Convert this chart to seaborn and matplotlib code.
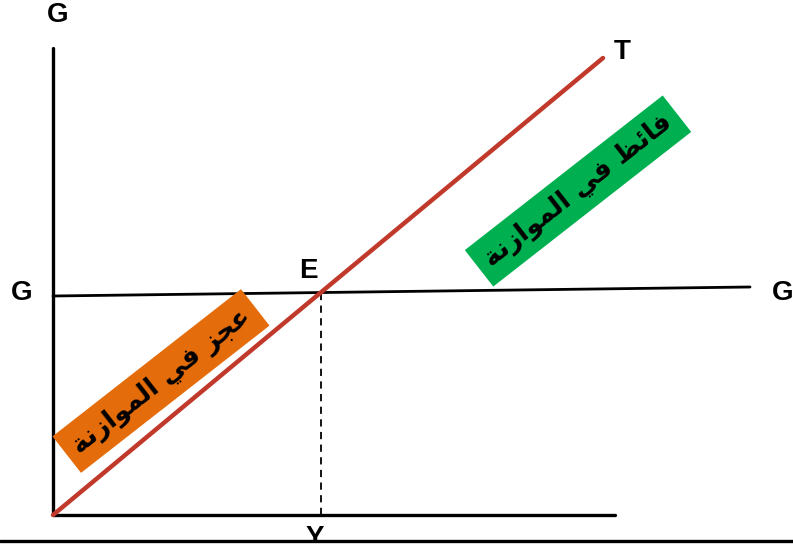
import numpy as np
import seaborn as sns
from matplotlib import pyplot as plt

# diagram values (origin at the axes corner, units ~ pixels)
t_x = [0, 550]
t_y = [0, 457]
g_x = [0, 697]
g_y = [219, 228]
y_axis_top = 467
x_axis_end = 562

deficit_label = "عجز في الموازنة"
surplus_label = "فائض في الموازنة"

# minimal arabic shaping: letter -> (isolated, final, initial, medial)
forms = {
    "ع": ("\uFEC9", "\uFECA", "\uFECB", "\uFECC"),
    "ج": ("\uFE9D", "\uFE9E", "\uFE9F", "\uFEA0"),
    "ز": ("\uFEAF", "\uFEB0", "\uFEAF", "\uFEB0"),
    "ف": ("\uFED1", "\uFED2", "\uFED3", "\uFED4"),
    "ي": ("\uFEF1", "\uFEF2", "\uFEF3", "\uFEF4"),
    "ا": ("\uFE8D", "\uFE8E", "\uFE8D", "\uFE8E"),
    "ل": ("\uFEDD", "\uFEDE", "\uFEDF", "\uFEE0"),
    "م": ("\uFEE1", "\uFEE2", "\uFEE3", "\uFEE4"),
    "و": ("\uFEED", "\uFEEE", "\uFEED", "\uFEEE"),
    "ن": ("\uFEE5", "\uFEE6", "\uFEE7", "\uFEE8"),
    "ة": ("\uFE93", "\uFE94", "\uFE93", "\uFE94"),
    "ئ": ("\uFE89", "\uFE8A", "\uFE8B", "\uFE8C"),
    "ض": ("\uFEC5", "\uFEC6", "\uFEC7", "\uFEC8"),
}
no_left_join = set("ازوةدذر")


def shape(text):
    out = []
    for i, ch in enumerate(text):
        if ch not in forms:
            out.append(ch)
            continue
        prev = text[i - 1] if i > 0 else " "
        nxt = text[i + 1] if i + 1 < len(text) else " "
        join_prev = prev in forms and prev not in no_left_join
        join_next = nxt in forms and ch not in no_left_join
        idx = {(False, False): 0, (True, False): 1, (False, True): 2, (True, True): 3}[(join_prev, join_next)]
        out.append(forms[ch][idx])
    return "".join(out)[::-1]


sns.set_theme(style="white")
plt.rcParams["font.family"] = ["Liberation Sans", "DejaVu Sans"]

fig = plt.figure(figsize=(7.93, 5.47), dpi=100)
ax = fig.add_axes([0, 0, 1, 1])
ax.set_xlim(-53, 740)
ax.set_ylim(-32, 515)
ax.axis("off")

# axes of the diagram
sns.lineplot(x=[0, 0], y=[0, y_axis_top], ax=ax, color="black", linewidth=2.4, estimator=None, sort=False)
sns.lineplot(x=[0, x_axis_end], y=[0, 0], ax=ax, color="black", linewidth=2.4, estimator=None, sort=False)
sns.lineplot(x=[-53, 740], y=[-26, -26], ax=ax, color="black", linewidth=2.4, estimator=None, sort=False, zorder=6)
ax.axhspan(-32, -26, color="white", zorder=5)

# G line and T line
sns.lineplot(x=g_x, y=g_y, ax=ax, color="black", linewidth=2.0, estimator=None, sort=False)
sns.lineplot(x=t_x, y=t_y, ax=ax, color="#C0392B", linewidth=3.2, estimator=None, sort=False, zorder=4)

# intersection E
st = (t_y[1] - t_y[0]) / (t_x[1] - t_x[0])
sg = (g_y[1] - g_y[0]) / (g_x[1] - g_x[0])
ex = (g_y[0] - t_y[0]) / (st - sg)
ey = t_y[0] + st * ex
ax.plot([ex, ex], [0, ey], color="black", linewidth=1.3, linestyle=(0, (4, 3)))

lab = dict(fontsize=20, fontweight="bold", color="black")
ax.text(5, 500, "G", ha="center", va="center", **lab)
ax.text(-31, 222, "G", ha="center", va="center", **lab)
ax.text(719, 222, "G", ha="left", va="center", **lab)
ax.text(ex - 12, ey + 22, "E", ha="center", va="center", **lab)
ax.text(569, 463, "T", ha="center", va="center", **lab)
ax.text(ex - 6, -10, "Y", ha="center", va="top", zorder=3, **lab)

box = dict(fontsize=19, fontweight="bold", color="black", family=["DejaVu Sans"],
           ha="center", va="center", rotation=38, rotation_mode="anchor")
ax.text(108, 134, shape(deficit_label), zorder=3,
        bbox=dict(boxstyle="square,pad=0.38", facecolor="#E46C0A", edgecolor="none"), **box)
ax.text(525, 324, shape(surplus_label), zorder=3,
        bbox=dict(boxstyle="square,pad=0.38", facecolor="#00B050", edgecolor="none"), **box)

fig.savefig("out.png", dpi=100)
